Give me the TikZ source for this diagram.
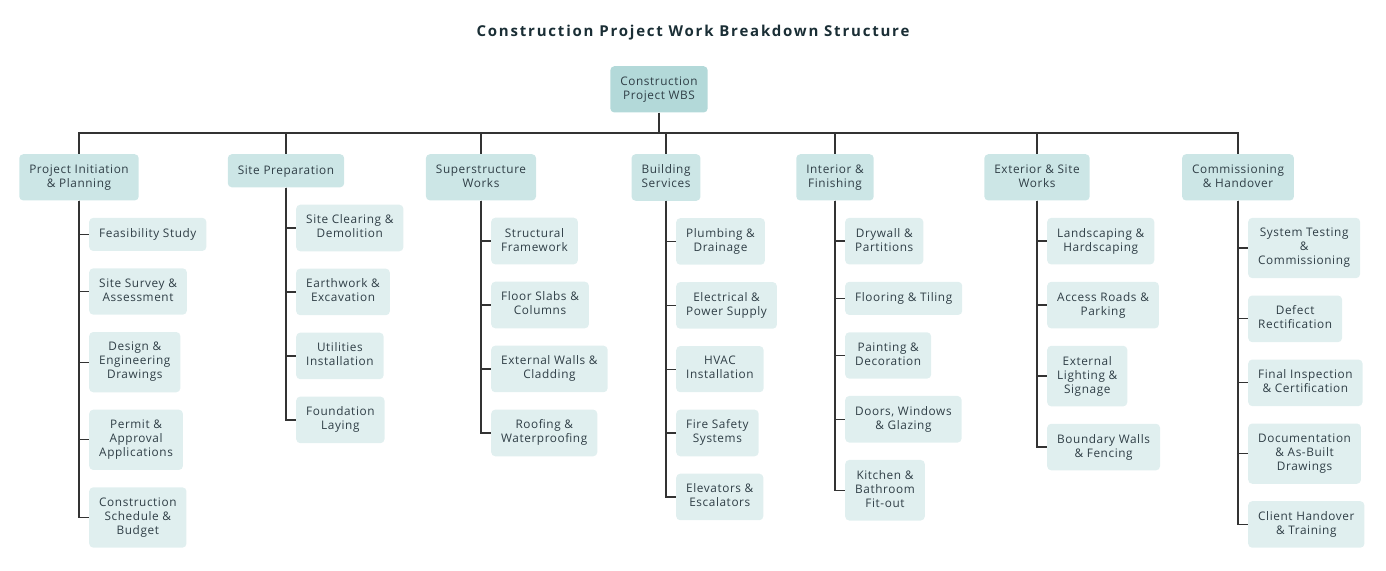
\documentclass[tikz,border=0pt]{standalone}
\usepackage{fontspec}
\setmainfont{Open Sans}[LetterSpace=5]
\usepackage{tikz}
\usetikzlibrary{calc,positioning}
\usepackage{xcolor}
\definecolor{root_teal}{HTML}{B3D9D9}
\definecolor{mid_teal}{HTML}{CCE6E6}
\definecolor{light_teal}{HTML}{E0EFEF}
\definecolor{text_dark}{HTML}{2F3E46}
\definecolor{line_dark}{HTML}{333333}
\definecolor{title_dark}{HTML}{1A2E35}

\tikzset{
	box/.style={rounded corners=4pt, align=center, inner xsep=10pt, inner ysep=10.3pt, text=text_dark, font=\fontsize{11.8}{14}\selectfont,
		execute at begin node=\rule{0pt}{9.5pt}, execute at end node=\rule[-3pt]{0pt}{3pt}},
	rootbox/.style={box, fill=root_teal},
	phase/.style={box, fill=mid_teal, anchor=north},
	task/.style={box, fill=light_teal, anchor=north west},
	link/.style={line_dark, line width=1.3pt},
}

\begin{document}
\begin{tikzpicture}[x=1pt, y=-1pt]
	\useasboundingbox (0, 0) rectangle (1386, 570);
	\node[font=\fontsize{15}{17}\bfseries\addfontfeatures{LetterSpace=12}, text=title_dark] (title) at (693, 33) {Construction Project Work Breakdown Structure};
	\node[rootbox, anchor=north] (root) at (659, 66) {Construction\\Project WBS};
	\coordinate (bus) at (659, 133);
	\draw[link] (root.south) -- (bus);

	\node[phase] (pi) at (79, 154) {Project Initiation\\\& Planning};
	\node[phase] (sp) at (286, 154) {Site Preparation};
	\node[phase] (ss) at (481, 154) {Superstructure\\Works};
	\node[phase] (bs) at (666, 154) {Building\\Services};
	\node[phase] (inf) at (835, 154) {Interior \&\\Finishing};
	\node[phase] (ext) at (1037, 154) {Exterior \& Site\\Works};
	\node[phase] (com) at (1238, 154) {Commissioning\\\& Handover};
	\foreach \p in {pi, sp, ss, bs, inf, ext, com}
		\draw[link] (bus) -| (\p.north);

	% project initiation
	\node[task] (pi1) at ($(pi.south) + (10, 17)$) {Feasibility Study};
	\node[task, below=17pt of pi1.south west, anchor=north west] (pi2) {Site Survey \&\\Assessment};
	\node[task, below=17pt of pi2.south west, anchor=north west] (pi3) {Design \&\\Engineering\\Drawings};
	\node[task, below=17pt of pi3.south west, anchor=north west] (pi4) {Permit \&\\Approval\\Applications};
	\node[task, below=17pt of pi4.south west, anchor=north west] (pi5) {Construction\\Schedule \&\\Budget};
	\foreach \c in {pi1, pi2, pi3, pi4, pi5}
		\draw[link] (pi.south) |- (\c.west);

	% site preparation
	\node[task] (sp1) at ($(sp.south) + (10, 17)$) {Site Clearing \&\\Demolition};
	\node[task, below=17pt of sp1.south west, anchor=north west] (sp2) {Earthwork \&\\Excavation};
	\node[task, below=17pt of sp2.south west, anchor=north west] (sp3) {Utilities\\Installation};
	\node[task, below=17pt of sp3.south west, anchor=north west] (sp4) {Foundation\\Laying};
	\foreach \c in {sp1, sp2, sp3, sp4}
		\draw[link] (sp.south) |- (\c.west);

	% superstructure
	\node[task] (ss1) at ($(ss.south) + (10, 17)$) {Structural\\Framework};
	\node[task, below=17pt of ss1.south west, anchor=north west] (ss2) {Floor Slabs \&\\Columns};
	\node[task, below=17pt of ss2.south west, anchor=north west] (ss3) {External Walls \&\\Cladding};
	\node[task, below=17pt of ss3.south west, anchor=north west] (ss4) {Roofing \&\\Waterproofing};
	\foreach \c in {ss1, ss2, ss3, ss4}
		\draw[link] (ss.south) |- (\c.west);

	% building services
	\node[task] (bs1) at ($(bs.south) + (10, 17)$) {Plumbing \&\\Drainage};
	\node[task, below=17pt of bs1.south west, anchor=north west] (bs2) {Electrical \&\\Power Supply};
	\node[task, below=17pt of bs2.south west, anchor=north west] (bs3) {HVAC\\Installation};
	\node[task, below=17pt of bs3.south west, anchor=north west] (bs4) {Fire Safety\\Systems};
	\node[task, below=17pt of bs4.south west, anchor=north west] (bs5) {Elevators \&\\Escalators};
	\foreach \c in {bs1, bs2, bs3, bs4, bs5}
		\draw[link] (bs.south) |- (\c.west);

	% interior
	\node[task] (inf1) at ($(inf.south) + (10, 17)$) {Drywall \&\\Partitions};
	\node[task, below=17pt of inf1.south west, anchor=north west] (inf2) {Flooring \& Tiling};
	\node[task, below=17pt of inf2.south west, anchor=north west] (inf3) {Painting \&\\Decoration};
	\node[task, below=17pt of inf3.south west, anchor=north west] (inf4) {Doors, Windows\\\& Glazing};
	\node[task, below=17pt of inf4.south west, anchor=north west] (inf5) {Kitchen \&\\Bathroom\\Fit-out};
	\foreach \c in {inf1, inf2, inf3, inf4, inf5}
		\draw[link] (inf.south) |- (\c.west);

	% exterior
	\node[task] (ext1) at ($(ext.south) + (10, 17)$) {Landscaping \&\\Hardscaping};
	\node[task, below=17pt of ext1.south west, anchor=north west] (ext2) {Access Roads \&\\Parking};
	\node[task, below=17pt of ext2.south west, anchor=north west] (ext3) {External\\Lighting \&\\Signage};
	\node[task, below=17pt of ext3.south west, anchor=north west] (ext4) {Boundary Walls\\\& Fencing};
	\foreach \c in {ext1, ext2, ext3, ext4}
		\draw[link] (ext.south) |- (\c.west);

	% commissioning
	\node[task] (com1) at ($(com.south) + (10, 17)$) {System Testing\\\&\\Commissioning};
	\node[task, below=17pt of com1.south west, anchor=north west] (com2) {Defect\\Rectification};
	\node[task, below=17pt of com2.south west, anchor=north west] (com3) {Final Inspection\\\& Certification};
	\node[task, below=17pt of com3.south west, anchor=north west] (com4) {Documentation\\\& As-Built\\Drawings};
	\node[task, below=17pt of com4.south west, anchor=north west] (com5) {Client Handover\\\& Training};
	\foreach \c in {com1, com2, com3, com4, com5}
		\draw[link] (com.south) |- (\c.west);
\end{tikzpicture}
\end{document}
